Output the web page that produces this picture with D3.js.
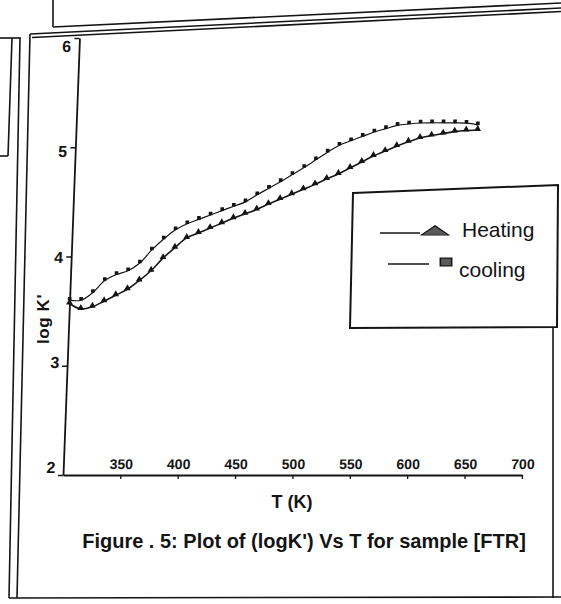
<!DOCTYPE html>
<html>
<head>
<meta charset="utf-8">
<script src="https://cdn.jsdelivr.net/npm/d3@7"></script>
<style>
  html, body { margin: 0; padding: 0; background: #fff; }
  svg { display: block; font-family: "Liberation Sans", Arial, sans-serif; }
</style>
</head>
<body>
<svg id="chart" width="561" height="604"></svg>
<script>
// Temperature steps (K) shared by both runs
const temperatureK = [300, 310, 320, 330, 340, 350, 360, 370, 380, 390,
                      400, 410, 420, 430, 440, 450, 460, 470, 480, 490,
                      500, 510, 520, 530, 540, 550, 560, 570, 580, 590,
                      600, 610, 620, 630, 640, 650];

// log K' measured while heating (triangles)
const heatingLogK = [3.57, 3.52, 3.54, 3.59, 3.645, 3.70, 3.78, 3.87, 3.985, 4.08,
                     4.17, 4.215, 4.26, 4.305, 4.35, 4.39, 4.43, 4.48, 4.525, 4.57,
                     4.615, 4.66, 4.71, 4.755, 4.81, 4.865, 4.92, 4.965, 5.01, 5.05,
                     5.085, 5.107, 5.125, 5.143, 5.153, 5.158];

// log K' measured while cooling (squares)
const coolingLogK = [3.60, 3.60, 3.67, 3.78, 3.835, 3.87, 3.94, 4.06, 4.16, 4.245,
                     4.30, 4.34, 4.38, 4.42, 4.46, 4.50, 4.565, 4.625, 4.685, 4.75,
                     4.815, 4.885, 4.955, 5.018, 5.06, 5.10, 5.14, 5.17, 5.20, 5.213,
                     5.222, 5.224, 5.224, 5.223, 5.22, 5.205];

const xTickValues = [350, 400, 450, 500, 550, 600, 650, 700];
const yTickValues = [2, 3, 4, 5, 6];
const seriesNames = ["Heating", "cooling"];

const ink = "#141414";
const svg = d3.select("#chart");

// ---- page frame lines around the figure panel ----
const frameSegments = [
  [[53, 0], [53, 27]], [[53, 27], [561, 3]],          // box above
  [[30, 34], [561, 8]], [[32, 37.5], [561, 11.5]],    // double top rule
  [[30, 34], [17, 598]],                              // panel left edge
  [[0, 38], [21, 38]], [[20, 38], [9, 598]],          // neighbouring column
  [[12, 38], [8, 156]], [[0, 156], [8, 156]],
  [[553, 327], [553, 598]],                           // panel right edge
  [[9, 598], [561, 597]]                              // bottom rule
];
svg.append("g")
  .selectAll("path")
  .data(frameSegments)
  .join("path")
  .attr("d", d => d3.line()(d))
  .attr("fill", "none")
  .attr("stroke", ink)
  .attr("stroke-width", 1.6);

// ---- scales ----
const x = d3.scaleLinear().domain([300, 700]).range([63, 522]);
const y = d3.scaleLinear().domain([2, 6]).range([475, 38]);
// tick labels sit on a slightly different vertical spread than the ticks
const yLabel = d3.scaleLinear().domain([2, 6]).range([467, 46]);

// plot area is slightly sheared (left axis leans right toward the top)
const plot = svg.append("g")
  .attr("transform", "translate(0,475) skewX(-2.16) translate(0,-475)");

// ---- axes ----
const xAxis = plot.append("g")
  .attr("transform", `translate(0,${y(2)})`)
  .call(d3.axisBottom(x).tickValues(xTickValues).tickSize(4).tickSizeOuter(0));
xAxis.select(".domain").attr("stroke", ink).attr("stroke-width", 1.8);
xAxis.selectAll(".tick line").attr("stroke", ink).attr("stroke-width", 1.3);
xAxis.selectAll(".tick text")
  .attr("y", -6).attr("dy", 0)
  .attr("fill", ink)
  .attr("font-size", 14)
  .attr("font-weight", "bold")
  .attr("font-family", "Liberation Sans, Arial, sans-serif");

const yAxis = plot.append("g")
  .attr("transform", `translate(${x(300)},0)`)
  .call(d3.axisLeft(y).tickValues(yTickValues).tickFormat(d3.format("d"))
    .tickSize(5).tickPadding(3).tickSizeOuter(0));
yAxis.select(".domain").attr("stroke", ink).attr("stroke-width", 1.8);
yAxis.selectAll(".tick line").attr("stroke", ink).attr("stroke-width", 1.3);
yAxis.selectAll(".tick text")
  .attr("y", d => yLabel(d) - y(d))
  .attr("dy", "0.35em")
  .attr("fill", ink)
  .attr("font-size", 16)
  .attr("font-weight", "bold")
  .attr("font-family", "Liberation Sans, Arial, sans-serif");

// ---- series ----
const heating = temperatureK.map((t, i) => ({ t, v: heatingLogK[i] }));
const cooling = temperatureK.map((t, i) => ({ t, v: coolingLogK[i] }));

const line = d3.line()
  .x(d => x(d.t))
  .y(d => y(d.v))
  .curve(d3.curveCatmullRom);

plot.append("path")
  .datum(cooling)
  .attr("d", line)
  .attr("fill", "none")
  .attr("stroke", ink)
  .attr("stroke-width", 1.2);

plot.append("path")
  .datum(heating)
  .attr("d", line)
  .attr("fill", "none")
  .attr("stroke", ink)
  .attr("stroke-width", 1.6);

plot.append("g")
  .selectAll("path")
  .data(cooling)
  .join("path")
  .attr("transform", d => `translate(${x(d.t)},${y(d.v) - 1.5})`)
  .attr("d", d3.symbol(d3.symbolSquare, 13))
  .attr("fill", ink);

plot.append("g")
  .selectAll("path")
  .data(heating)
  .join("path")
  .attr("transform", d => `translate(${x(d.t)},${y(d.v) - 1})`)
  .attr("d", d3.symbol(d3.symbolTriangle, 20))
  .attr("fill", ink);

// ---- axis titles and caption ----
svg.append("text")
  .attr("transform", "translate(49,319) rotate(-90)")
  .attr("text-anchor", "middle")
  .attr("font-size", 17)
  .attr("font-weight", "bold")
  .attr("letter-spacing", 0.6)
  .attr("fill", ink)
  .text("log K'");

svg.append("text")
  .attr("x", 292).attr("y", 508)
  .attr("text-anchor", "middle")
  .attr("font-size", 18)
  .attr("font-weight", "bold")
  .attr("fill", ink)
  .text("T (K)");

svg.append("text")
  .attr("x", 304).attr("y", 548)
  .attr("text-anchor", "middle")
  .attr("font-size", 20)
  .attr("font-weight", "bold")
  .attr("fill", ink)
  .text("Figure . 5: Plot of (logK') Vs T for sample [FTR]");

// ---- legend ----
const legend = svg.append("g");
legend.append("path")
  .attr("d", d3.line()([[353, 193], [558, 185], [557, 327], [350, 328]]) + "Z")
  .attr("fill", "#fff")
  .attr("stroke", ink)
  .attr("stroke-width", 2);

// Heating entry
legend.append("line")
  .attr("x1", 380).attr("x2", 420).attr("y1", 233).attr("y2", 233)
  .attr("stroke", ink).attr("stroke-width", 1.5);
legend.append("path")
  .attr("transform", "translate(435,232) scale(1.9,0.75)")
  .attr("d", d3.symbol(d3.symbolTriangle, 90))
  .attr("fill", "#5a5a5a").attr("stroke", ink).attr("stroke-width", 1);
legend.append("text")
  .attr("x", 462).attr("y", 237)
  .attr("font-size", 21).attr("fill", ink)
  .text(seriesNames[0]);

// cooling entry
legend.append("line")
  .attr("x1", 388).attr("x2", 429).attr("y1", 264).attr("y2", 264)
  .attr("stroke", ink).attr("stroke-width", 1.5);
legend.append("path")
  .attr("transform", "translate(446,262) scale(1.6,1.1)")
  .attr("d", d3.symbol(d3.symbolSquare, 50))
  .attr("fill", "#5a5a5a").attr("stroke", ink).attr("stroke-width", 1);
legend.append("text")
  .attr("x", 459).attr("y", 277)
  .attr("font-size", 21).attr("fill", ink)
  .text(seriesNames[1]);
</script>
</body>
</html>
